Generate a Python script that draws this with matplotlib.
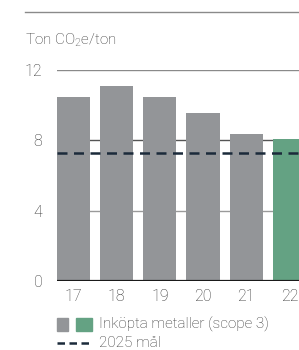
import matplotlib.pyplot as plt
from matplotlib.patches import Rectangle
from matplotlib.lines import Line2D

plt.rcParams["font.family"] = ["Roboto", "DejaVu Sans"]
plt.rcParams["font.weight"] = "light"
plt.rcParams["mathtext.fontset"] = "custom"
plt.rcParams["mathtext.rm"] = "Roboto:light"

years = ["17", "18", "19", "20", "21", "22"]
values = [10.45, 11.1, 10.45, 9.55, 8.35, 8.05]
colors = ["#939598"] * 5 + ["#64a283"]
target_2025 = 7.3
yticks = [0, 4, 8, 12]

W, H = 299, 350
fig = plt.figure(figsize=(W / 100, H / 100), dpi=100)
ax = fig.add_axes([57 / W, 1 - 281 / H, 1 - 57 / W, (281 - 70) / H])

x = list(range(len(years)))
ax.bar(x, values, width=0.77, color=colors, zorder=2)
ax.set_xlim(-0.38, 5.22)
ax.set_ylim(0, 12)

# gridlines
ax.axhline(12, color="#8a8a8a", lw=1, zorder=1)
ax.axhline(8, color="#555555", lw=1, zorder=1)
ax.axhline(4, color="#9a9a9a", lw=1, zorder=1)
ax.axhline(0, color="#1a1a1a", lw=1.6, zorder=3)
ax.axhline(target_2025, color="#1b2a3a", lw=1.8, ls=(0, (4, 2.6)), zorder=4)

for s in ax.spines.values():
    s.set_visible(False)
ax.set_yticks(yticks)
ax.set_yticklabels([str(t) for t in yticks])
ax.set_xticks(x)
ax.set_xticklabels(years)
ax.tick_params(length=0, labelsize=11.5, colors="#333333")
ax.tick_params(axis="y", pad=10.5)
ax.tick_params(axis="x", pad=6)
ax.patch.set_visible(False)

# top rule and unit title
fig.add_artist(Line2D([25 / W, 1], [1 - 12 / H] * 2, color="#8a8a8a", lw=1))
fig.text(25 / W, 1 - 40 / H, "Ton CO$_\\mathregular{2}$e/ton", fontsize=11, color="#333333", va="center")

# legend
fig.add_artist(Rectangle((57 / W, 1 - 331 / H), 11 / W, 13 / H, color="#939598"))
fig.add_artist(Rectangle((76 / W, 1 - 331 / H), 16 / W, 13 / H, color="#64a283"))
fig.text(99 / W, 1 - 324 / H, "Inköpta metaller (scope 3)", fontsize=11, color="#333333", va="center")
fig.add_artist(Line2D([57 / W, 90 / W], [1 - 343 / H] * 2, color="#1b2a3a", lw=1.8, ls=(0, (3, 1.8))))
fig.text(99 / W, 1 - 343 / H, "2025 mål", fontsize=11, color="#333333", va="center")

fig.savefig("out.png", dpi=100)
